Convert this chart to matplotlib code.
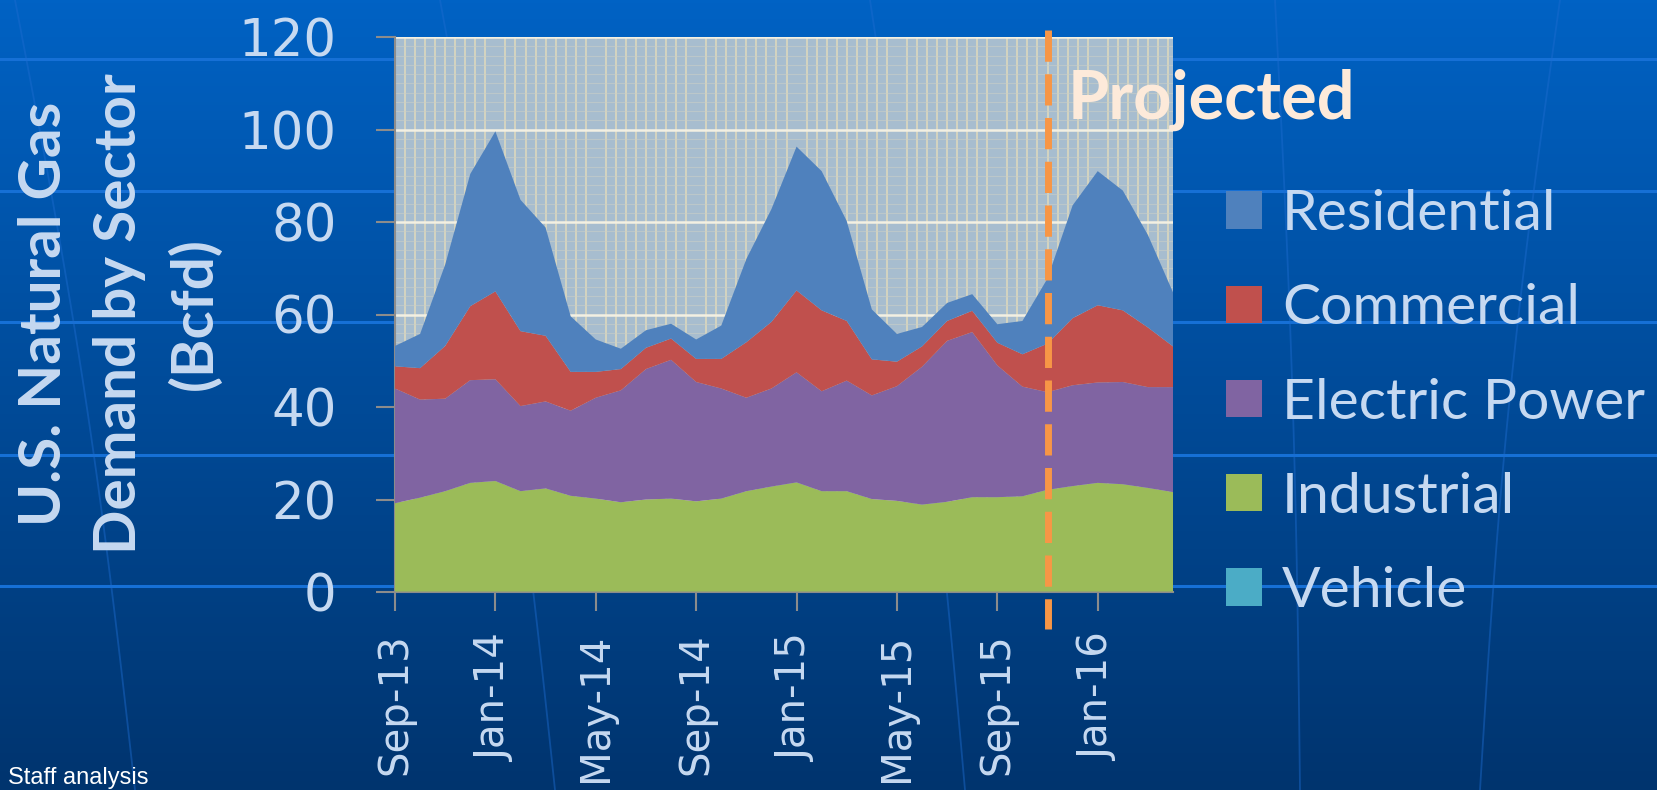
import matplotlib.pyplot as plt
import numpy as np
from matplotlib.patches import Patch
from matplotlib.ticker import MultipleLocator
from matplotlib.colors import LinearSegmentedColormap

# monthly demand by sector, Bcfd
months = ['Sep-13', 'Oct-13', 'Nov-13', 'Dec-13', 'Jan-14', 'Feb-14', 'Mar-14', 'Apr-14',
          'May-14', 'Jun-14', 'Jul-14', 'Aug-14', 'Sep-14', 'Oct-14', 'Nov-14', 'Dec-14',
          'Jan-15', 'Feb-15', 'Mar-15', 'Apr-15', 'May-15', 'Jun-15', 'Jul-15', 'Aug-15',
          'Sep-15', 'Oct-15', 'Nov-15', 'Dec-15', 'Jan-16', 'Feb-16', 'Mar-16', 'Apr-16']

vehicle = [0.1, 0.1, 0.1, 0.1, 0.1, 0.1, 0.1, 0.1, 0.1, 0.1, 0.1, 0.1, 0.1, 0.1, 0.1, 0.1,
           0.1, 0.1, 0.1, 0.1, 0.1, 0.1, 0.1, 0.1, 0.1, 0.1, 0.1, 0.1, 0.1, 0.1, 0.1, 0.1]
industrial = [19.1, 20.3, 21.7, 23.5, 23.9, 21.7, 22.3, 20.7, 20.1, 19.3, 19.9, 20.1, 19.5, 20.1, 21.7, 22.7,
              23.6, 21.7, 21.7, 20.0, 19.6, 18.8, 19.4, 20.4, 20.4, 20.6, 22.0, 22.8, 23.5, 23.2, 22.4, 21.5]
electric = [24.8, 21.2, 20.0, 22.2, 22.0, 18.4, 18.8, 18.4, 21.8, 24.2, 28.2, 30.0, 25.8, 23.8, 20.2, 21.2,
            23.8, 21.6, 23.9, 22.4, 24.8, 29.8, 34.8, 35.7, 28.5, 23.7, 21.1, 21.8, 21.7, 22.1, 21.8, 22.7]
commercial = [4.8, 6.8, 11.4, 16.0, 19.0, 16.2, 14.2, 8.4, 5.6, 4.6, 4.6, 4.6, 5.0, 6.4, 12.0, 14.4,
              17.7, 17.5, 12.9, 7.8, 5.3, 4.4, 4.3, 4.6, 4.9, 7.0, 10.5, 14.5, 16.7, 15.5, 12.9, 8.8]
residential = [4.4, 7.4, 17.6, 28.6, 34.6, 28.4, 23.4, 12.0, 7.0, 4.4, 3.8, 3.2, 4.2, 7.2, 18.0, 24.4,
               31.1, 30.1, 21.6, 10.8, 6.0, 4.2, 3.9, 3.6, 4.0, 7.2, 14.1, 24.4, 29.0, 25.9, 20.0, 11.7]

sectors = ['Vehicle', 'Industrial', 'Electric Power', 'Commercial', 'Residential']
colors = ['#4bacc6', '#9bbb59', '#8064a2', '#c0504d', '#4f81bd']
projected_from = 'Nov-15'

W, H = 1657, 790
txt = '#c6d9f1'
fig = plt.figure(figsize=(W / 100, H / 100), dpi=100)

# slide background
bg = fig.add_axes([0, 0, 1, 1], zorder=-10)
grad = np.linspace(0, 1, 256).reshape(-1, 1)
cmap = LinearSegmentedColormap.from_list('slide', ['#0062c4', '#00346e'])
bg.imshow(grad, cmap=cmap, aspect='auto', extent=[0, W, H, 0])
for yy in [59, 191, 322, 455, 586]:
    bg.axhline(yy, color='#1670d6', lw=2.2)
t = np.linspace(0, H, 100)
for x0, x1, bend in [(15, 135, 10), (440, 555, 10), (870, 965, 8), (1275, 1300, 5), (1560, 1480, -10)]:
    xs = x0 + (x1 - x0) * (t / H) + bend * np.sin(np.pi * t / H)
    bg.plot(xs, t, color='#1d6cd0', lw=1.3, alpha=0.45)
bg.set_xlim(0, W)
bg.set_ylim(H, 0)
bg.axis('off')

ax = fig.add_axes([395 / W, 1 - 592 / H, 778 / W, 555 / H])
x = np.arange(len(months))
ax.set_facecolor('#a7bdcf')
ax.stackplot(x, vehicle, industrial, electric, commercial, residential,
             colors=colors, labels=sectors, lw=0, zorder=3)
ax.set_xlim(0, len(months) - 1)
ax.set_ylim(0, 120)
ax.set_yticks(range(0, 121, 20))
ax.set_xticks(x[::4])
ax.set_xticklabels(months[::4], rotation=90)

ax.xaxis.set_minor_locator(MultipleLocator(0.4))
ax.yaxis.set_minor_locator(MultipleLocator(2))
ax.set_axisbelow(True)
ax.grid(which='minor', axis='x', color='#ddd8bd', lw=1.2)
ax.grid(which='minor', axis='y', color='#c9cfc8', lw=0.8, alpha=0.6)
ax.grid(which='major', axis='y', color='#f3f0e2', lw=1.8)

ax.tick_params(which='minor', length=0)
ax.tick_params(which='major', length=14, width=1.5, color='#8c8c8c', labelcolor=txt, direction='out')
ax.tick_params(axis='y', labelsize=37, pad=28)
ax.tick_params(axis='x', labelsize=29, pad=16)
for s in ['top', 'right']:
    ax.spines[s].set_visible(False)
for s in ['left', 'bottom']:
    ax.spines[s].set_color('#8c8c8c')
    ax.spines[s].set_linewidth(1.5)

px = months.index(projected_from)
ax.plot([px, px], [1.0126, -0.0667], transform=ax.get_xaxis_transform(), color='#f79646',
        lw=5, dashes=(4.5, 1.8), clip_on=False, zorder=5)

fig.text(1068 / W, 1 - 119 / H, 'Projected', fontsize=48, fontweight='bold', family='Lato',
         color='#fdeada', va='baseline', ha='left')

handles = [Patch(facecolor=c, edgecolor='none') for c in colors]
fig.legend(handles[::-1], sectors[::-1], loc='center left', bbox_to_anchor=(1226 / W, 1 - 403 / H),
           frameon=False, prop={'family': 'Lato', 'size': 41}, handlelength=0.63, handleheight=0.63,
           handletextpad=0.35, labelspacing=0.76, borderpad=0, borderaxespad=0, labelcolor=txt)

fig.text(120 / W, 1 - 314 / H, 'U.S. Natural Gas\nDemand by Sector\n(Bcfd)', rotation=90,
         ha='center', va='center', multialignment='center', fontsize=42, fontweight='bold',
         family='Lato', color=txt, linespacing=1.5)

fig.text(8 / W, 1 / H, 'Staff analysis', fontsize=17, color='white',
         family='Liberation Sans', va='bottom', ha='left')

fig.savefig('out.png', dpi=100)
